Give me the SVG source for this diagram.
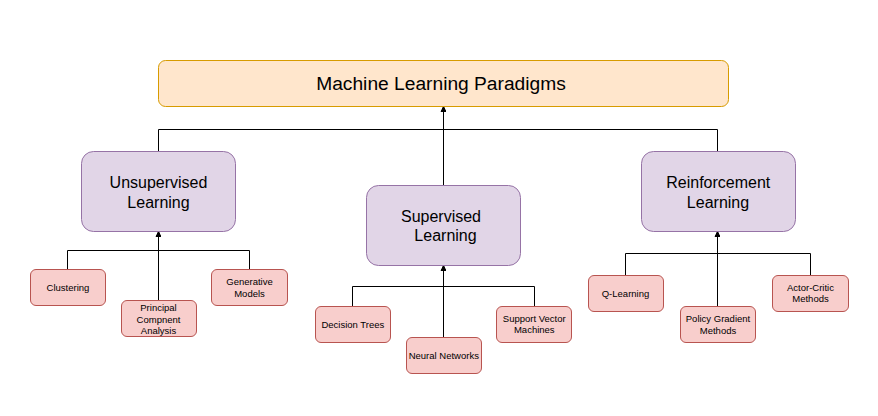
<svg xmlns="http://www.w3.org/2000/svg" width="878" height="416" viewBox="0 0 878 416">
<style>
text{font-family:"Liberation Sans",Arial,Helvetica,sans-serif;fill:#000;text-anchor:middle}
.top{fill:#ffe6cc;stroke:#d79b00}
.mid{fill:#e1d5e7;stroke:#9673a6}
.leaf{fill:#f8cecc;stroke:#b85450}
.t19{font-size:19.2px}
.t16{font-size:16px}
.t9{font-size:9.5px}
.edge{fill:none;stroke:#000;stroke-width:1;marker-end:url(#arr)}
</style>
<defs>
<marker id="arr" markerUnits="userSpaceOnUse" markerWidth="10" markerHeight="10" viewBox="-5 -8 10 10" refX="0" refY="0" orient="auto">
<path d="M0,0 L-3,-6.5 L0,-5 L3,-6.5 Z" fill="#000" stroke="#000" stroke-width="1" transform="rotate(-90)"/>
</marker>
</defs>
<g id="connectors">
<path class="edge" d="M158.5,151 V129.5 H443.5 V107"/>
<path class="edge" d="M443.5,185 V107"/>
<path class="edge" d="M717.5,151 V129.5 H443.5 V107"/>
<path class="edge" d="M67.5,269 V250.5 H158.5 V232"/>
<path class="edge" d="M158.5,300 V232"/>
<path class="edge" d="M249.5,269 V250.5 H158.5 V232"/>
<path class="edge" d="M352.5,306 V286.5 H443.5 V266"/>
<path class="edge" d="M443.5,337 V266"/>
<path class="edge" d="M534.5,306 V286.5 H443.5 V266"/>
<path class="edge" d="M625.5,275 V253.5 H717.5 V232"/>
<path class="edge" d="M717.5,306 V232"/>
<path class="edge" d="M810.5,275 V253.5 H717.5 V232"/>
</g>
<g id="root">
<rect class="top" x="158.5" y="60.5" width="570" height="46" rx="7"/>
<text class="t19" x="441" y="89.8">Machine Learning Paradigms</text>
</g>
<g id="unsupervised">
<rect class="mid" x="81.5" y="151.5" width="154" height="80" rx="12"/>
<text class="t16" x="158.5" y="187.5">Unsupervised</text>
<text class="t16" x="158.5" y="207.5">Learning</text>
</g>
<g id="supervised">
<rect class="mid" x="366.5" y="185.5" width="154" height="80" rx="12"/>
<text class="t16" x="441" y="221.7">Supervised</text>
<text class="t16" x="445.5" y="240.7">Learning</text>
</g>
<g id="reinforcement">
<rect class="mid" x="641.5" y="151.5" width="154" height="80" rx="12"/>
<text class="t16" x="718.3" y="187.5">Reinforcement</text>
<text class="t16" x="718" y="207.5">Learning</text>
</g>
<g id="clustering">
<rect class="leaf" x="30.5" y="269.5" width="75" height="36" rx="5.5"/>
<text class="t9" x="68" y="290.8">Clustering</text>
</g>
<g id="pca">
<rect class="leaf" x="121.5" y="300.5" width="75" height="36" rx="5.5"/>
<text class="t9" x="158.5" y="311">Principal</text>
<text class="t9" x="158.5" y="322.5">Compnent</text>
<text class="t9" x="158.5" y="334">Analysis</text>
</g>
<g id="generative">
<rect class="leaf" x="211.5" y="269.5" width="76" height="36" rx="5.5"/>
<text class="t9" x="249.5" y="285">Generative</text>
<text class="t9" x="249.5" y="296.7">Models</text>
</g>
<g id="decision-trees">
<rect class="leaf" x="315.5" y="306.5" width="75" height="36" rx="5.5"/>
<text class="t9" x="352.8" y="327.7">Decision Trees</text>
</g>
<g id="neural-networks">
<rect class="leaf" x="406.5" y="337.5" width="75" height="36" rx="5.5"/>
<text class="t9" x="443.8" y="359">Neural Networks</text>
</g>
<g id="svm">
<rect class="leaf" x="496.5" y="306.5" width="75" height="36" rx="5.5"/>
<text class="t9" x="534.3" y="322">Support Vector</text>
<text class="t9" x="534.3" y="333.2">Machines</text>
</g>
<g id="q-learning">
<rect class="leaf" x="588.5" y="275.5" width="75" height="36" rx="5.5"/>
<text class="t9" x="625.5" y="296.5">Q-Learning</text>
</g>
<g id="policy-gradient">
<rect class="leaf" x="680.5" y="306.5" width="75" height="36" rx="5.5"/>
<text class="t9" x="718" y="322.3">Policy Gradient</text>
<text class="t9" x="718" y="333.5">Methods</text>
</g>
<g id="actor-critic">
<rect class="leaf" x="772.5" y="275.5" width="76" height="36" rx="5.5"/>
<text class="t9" x="810.5" y="291">Actor-Critic</text>
<text class="t9" x="810.5" y="302.2">Methods</text>
</g>
</svg>
